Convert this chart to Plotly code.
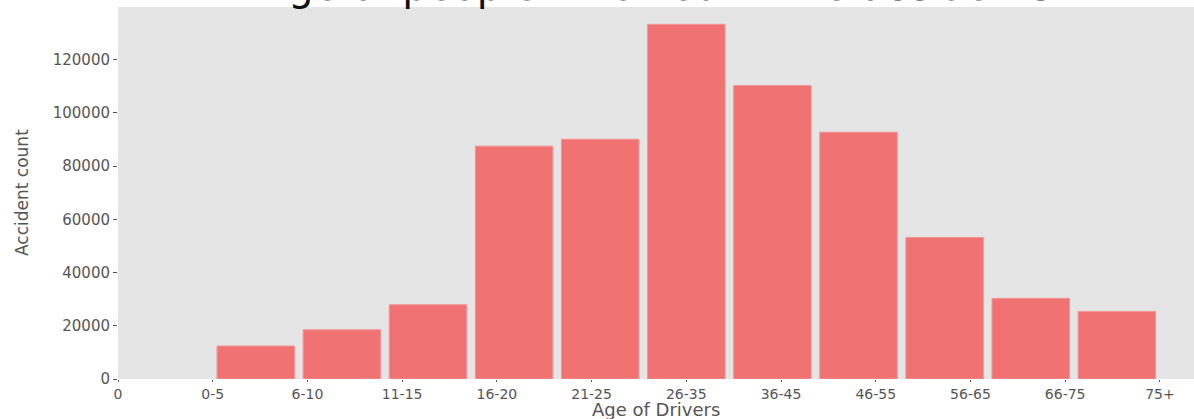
import plotly.graph_objects as go

# Data
categories = ['0-5', '6-10', '11-15', '16-20', '21-25', '26-35',
              '36-45', '46-55', '56-65', '66-75', '75+']
accident_counts = [12400, 18500, 27900, 87500, 90100, 133300,
                   110300, 92750, 53200, 30300, 25400]
tick_labels = ['0'] + categories

# histogram-like layout: 11 bins spanning 1..11, rwidth 0.9
n = len(categories)
bin_w = 10 / n
x_centers = [1 + (i + 0.5) * bin_w for i in range(n)]

fig = go.Figure()
fig.add_trace(go.Bar(
    x=x_centers,
    y=accident_counts,
    width=bin_w * 0.9,
    marker=dict(color='#F17272', line=dict(color='#F49494', width=1)),
    customdata=categories,
    hovertemplate='%{customdata}: %{y}<extra></extra>',
))

fig.update_layout(
    width=1194, height=419,
    margin=dict(l=118, r=0, t=7, b=40, autoexpand=False),
    paper_bgcolor='white',
    plot_bgcolor='#E5E5E5',
    showlegend=False,
    xaxis=dict(
        range=[0, 11.36],
        tickmode='array',
        tickvals=list(range(len(tick_labels))),
        ticktext=tick_labels,
        ticks='outside', ticklen=2, tickcolor='#555555', tickwidth=1,
        tickfont=dict(family='DejaVu Sans', size=14, color='#555555'),
        showgrid=False, zeroline=False, showline=False,
        automargin=False,
    ),
    yaxis=dict(
        range=[0, 139800],
        tickmode='array',
        tickvals=[0, 20000, 40000, 60000, 80000, 100000, 120000],
        tickformat='d',
        ticks='outside', ticklen=4, tickcolor='#555555', tickwidth=1,
        tickfont=dict(family='DejaVu Sans', size=15, color='#555555'),
        showgrid=False, zeroline=False, showline=False,
        automargin=False,
    ),
    annotations=[
        dict(
            text='Age of people involved in the accidents',
            xref='paper', yref='paper', x=0.5, y=1.056,
            xanchor='center', yanchor='middle',
            showarrow=False,
            font=dict(family='DejaVu Sans', size=40, color='#111111'),
        ),
        dict(
            text='Age of Drivers',
            xref='paper', yref='paper', x=0.5, y=0,
            xanchor='center', yanchor='middle', yshift=-30,
            showarrow=False,
            font=dict(family='DejaVu Sans', size=18, color='#555555'),
        ),
        dict(
            text='Accident count',
            xref='paper', yref='paper', x=0, y=0.5,
            xanchor='center', yanchor='middle', xshift=-96,
            textangle=-90,
            showarrow=False,
            font=dict(family='DejaVu Sans', size=17, color='#555555'),
        ),
    ],
)

fig.write_html('out.html', config={'displayModeBar': False})

with open('out.html', 'r', encoding='utf-8') as f:
    html = f.read()
html = html.replace('<body>', '<body style="margin:0;padding:0;">', 1)
with open('out.html', 'w', encoding='utf-8') as f:
    f.write(html)
